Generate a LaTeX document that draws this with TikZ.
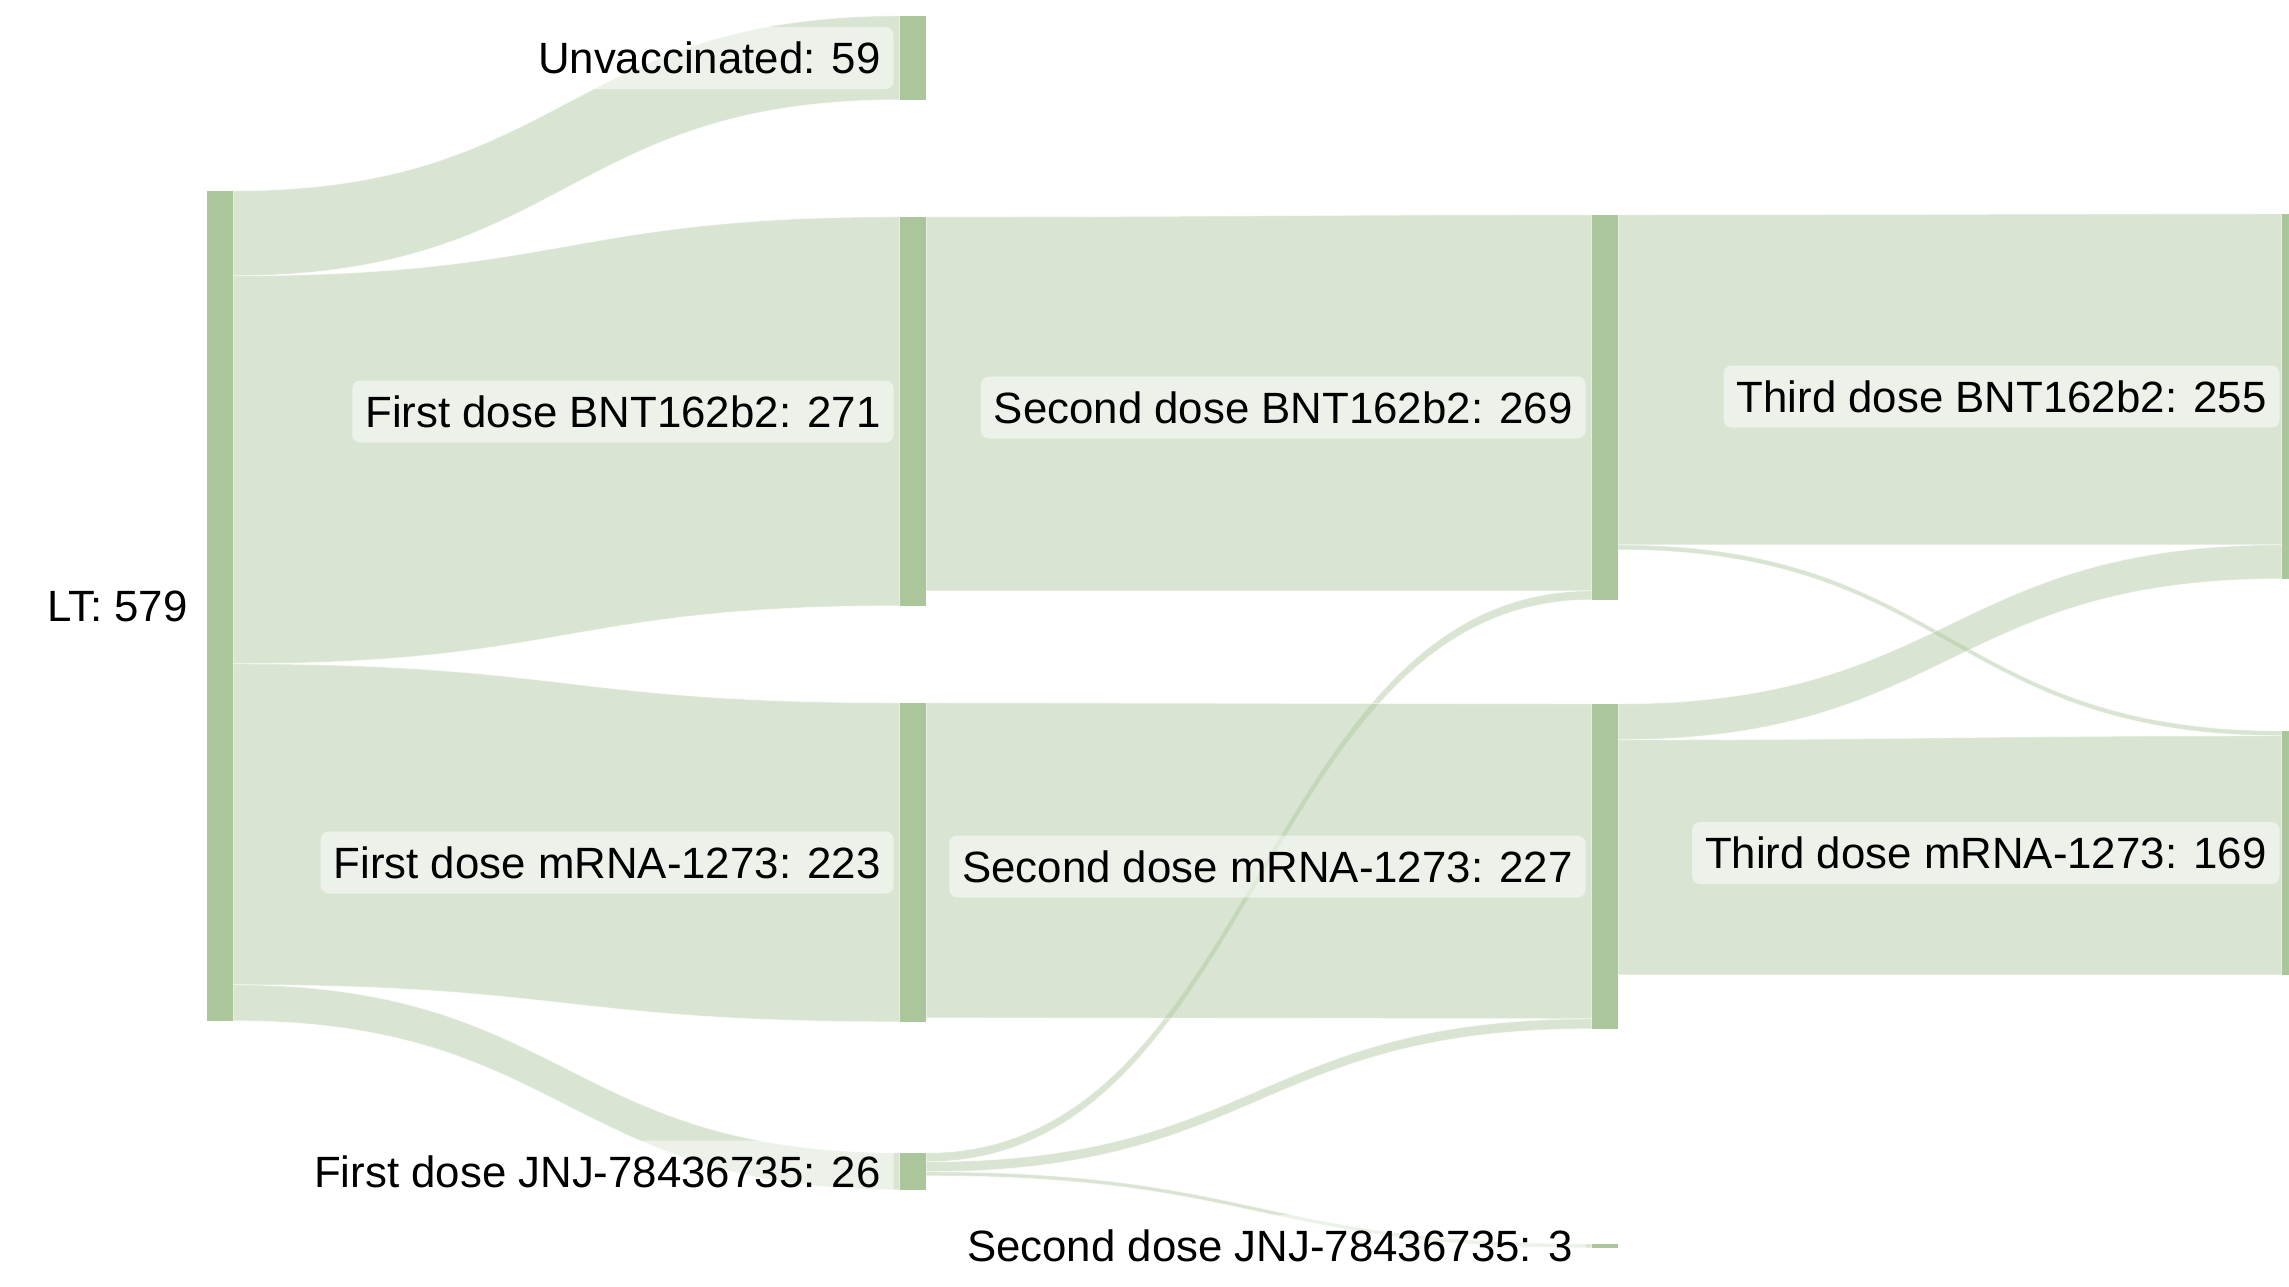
\documentclass[tikz,border=0pt]{standalone}
\usepackage{fontspec}
\setmainfont{Liberation Sans}
\usetikzlibrary{calc}
\pgfdeclarelayer{flows}
\pgfsetlayers{flows,main}
\definecolor{nodegreen}{RGB}{171,198,155}
\tikzset{
  bar/.style={rectangle, fill=nodegreen, draw=none, inner sep=0pt, minimum width=26pt},
  ribbon/.style={fill=nodegreen, fill opacity=0.45, draw=white, draw opacity=0.55, line width=0.8pt},
  lbl/.style={anchor=east, fill=white, fill opacity=0.5, text opacity=1, rounded corners=8pt,
    inner xsep=13pt, inner ysep=0pt, minimum height=62pt, text=black,
    font=\fontsize{43.8}{50}\selectfont},
}
% #1 source node, #2 offset below its top, #3 width at source,
% #4 target node, #5 offset below its top, #6 width at target
\newcommand\sankeyflow[6]{%
  \path[ribbon] let \p1=(#1.north east), \p2=(#4.north west), \n1={0.5*\x1+0.5*\x2} in
    (\x1,\y1-#2pt) .. controls (\n1,\y1-#2pt) and (\n1,\y2-#5pt) .. (\x2,\y2-#5pt)
    -- (\x2,\y2-#5pt-#6pt) .. controls (\n1,\y2-#5pt-#6pt) and (\n1,\y1-#2pt-#3pt) .. (\x1,\y1-#2pt-#3pt)
    -- cycle;
}
\begin{document}
\begin{tikzpicture}[x=1pt,y=-1pt]
\useasboundingbox (0,0) rectangle (2289,1286);
\clip (0,0) rectangle (2289,1286);

% stage bars
\node[bar, minimum height=830pt] (lt) at (220,606) {};
\node[bar, minimum height=84pt]  (unv) at (913,58) {};
\node[bar, minimum height=389pt] (b1) at (913,411.5) {};
\node[bar, minimum height=319pt] (m1) at (913,862.5) {};
\node[bar, minimum height=37pt]  (j1) at (913,1171.5) {};
\node[bar, minimum height=385pt] (b2) at (1605,407.5) {};
\node[bar, minimum height=325pt] (m2) at (1605,866.5) {};
\node[bar, minimum height=4pt]   (j2) at (1605,1246) {};
\node[bar, minimum height=365pt] (b3) at (2295,396.5) {};
\node[bar, minimum height=244pt] (m3) at (2295,853) {};

% flows between stages
\begin{pgfonlayer}{flows}
\sankeyflow{lt}{0}{85}{unv}{0}{84}
\sankeyflow{lt}{85}{388}{b1}{0}{389}
\sankeyflow{lt}{473}{321}{m1}{0}{319}
\sankeyflow{lt}{794}{36}{j1}{0}{37}
\sankeyflow{b1}{0}{374}{b2}{0}{376}
\sankeyflow{j1}{0}{9}{b2}{376}{9}
\sankeyflow{m1}{0}{315}{m2}{0}{315}
\sankeyflow{j1}{9}{10}{m2}{315}{10}
\sankeyflow{j1}{19}{4}{j2}{0}{4}
\sankeyflow{b2}{0}{330}{b3}{0}{331}
\sankeyflow{b2}{330}{5}{m3}{0}{5}
\sankeyflow{m2}{0}{36}{b3}{331}{34}
\sankeyflow{m2}{36}{235}{m3}{5}{239}
\end{pgfonlayer}

% labels
\node[lbl] (lt-l)  at ($(lt.west)+(-6,0)$)  {LT: 579};
\node[lbl] (unv-l) at ($(unv.west)+(-6,0)$) {Unvaccinated: 59};
\node[lbl] (b1-l)  at ($(b1.west)+(-6,0)$)  {First dose BNT162b2: 271};
\node[lbl] (m1-l)  at ($(m1.west)+(-6,0)$)  {First dose mRNA-1273: 223};
\node[lbl] (j1-l)  at ($(j1.west)+(-6,0)$)  {First dose JNJ-78436735: 26};
\node[lbl] (b2-l)  at ($(b2.west)+(-6,0)$)  {Second dose BNT162b2: 269};
\node[lbl] (m2-l)  at ($(m2.west)+(-6,0)$)  {Second dose mRNA-1273: 227};
\node[lbl] (j2-l)  at ($(j2.west)+(-6,0)$)  {Second dose JNJ-78436735: 3};
\node[lbl] (b3-l)  at ($(b3.west)+(-2,0)$)  {Third dose BNT162b2: 255};
\node[lbl] (m3-l)  at ($(m3.west)+(-2,0)$)  {Third dose mRNA-1273: 169};
\end{tikzpicture}
\end{document}
